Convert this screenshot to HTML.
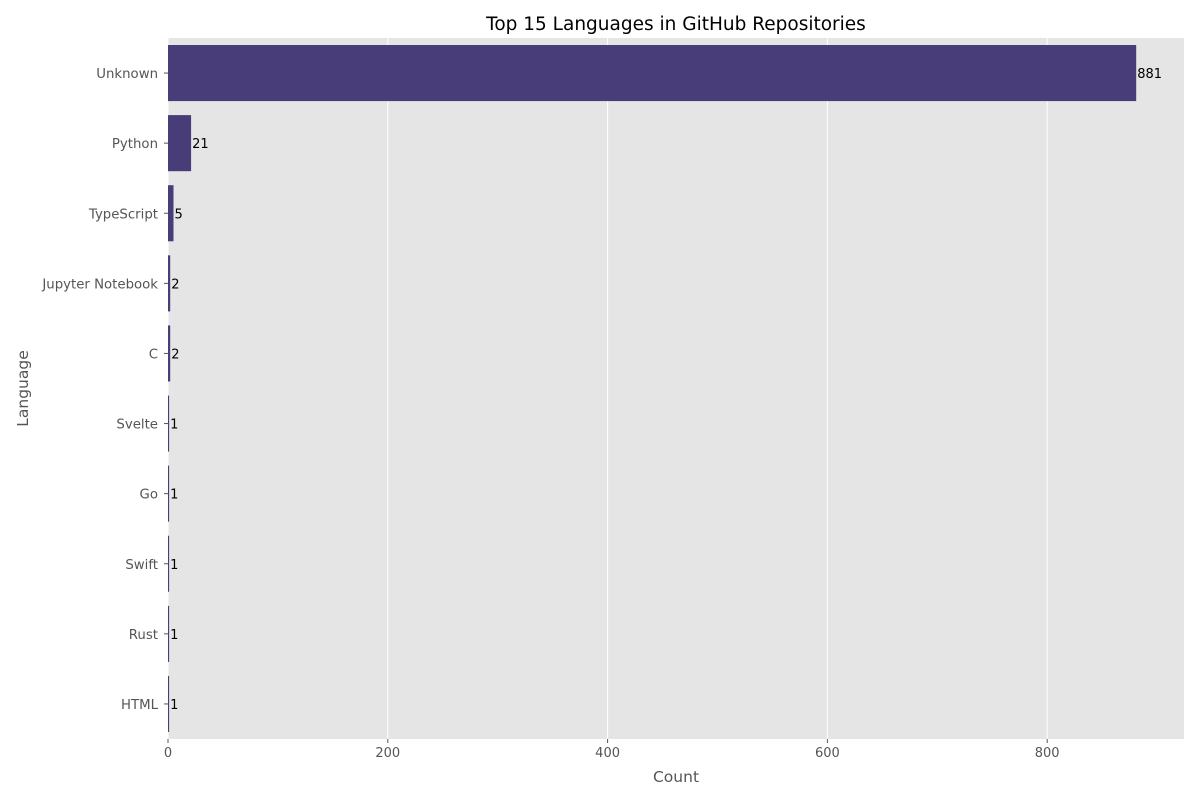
<!DOCTYPE html>
<html><head><meta charset="utf-8"><style>
body{margin:0;background:#fff;font-family:"Liberation Sans","DejaVu Sans",sans-serif}
</style></head><body>
<svg id="chart" width="1200" height="800" xmlns="http://www.w3.org/2000/svg" font-family="DejaVu Sans, Liberation Sans, sans-serif"></svg>
<script>
const categories=["Unknown","Python","TypeScript","Jupyter Notebook","C","Svelte","Go","Swift","Rust","HTML"];
const counts=[881,21,5,2,2,1,1,1,1,1];
const xTicks=[0,200,400,600,800];
const L=168,R=1184,T=38,B=739,XMAX=924.5;
const svg=document.getElementById('chart');
const NS='http://www.w3.org/2000/svg';
function mk(tag,attrs,parent){const e=document.createElementNS(NS,tag);for(const k in attrs)e.setAttribute(k,attrs[k]);(parent||svg).appendChild(e);return e;}
const xs=v=>L+(v/XMAX)*(R-L);
const band=(B-T)/categories.length;
const yc=i=>T+band*(i+0.5);
const bg=mk('rect',{x:L,y:T,width:R-L,height:B-T,fill:'#e5e5e5'});


xTicks.forEach(t=>{
  const g=mk('line',{x1:xs(t),x2:xs(t),y1:T,y2:B,stroke:'#fff','stroke-width':1});
  
  
  mk('line',{x1:xs(t),x2:xs(t),y1:B,y2:B+4,stroke:'#555'});
  const tl=mk('text',{x:xs(t),y:B+18,'text-anchor':'middle','font-size':13,fill:'#555'});
  tl.textContent=t;
  
  
});
categories.forEach((c,i)=>{
  const y=yc(i),h=band*0.8;
  const r=mk('rect',{x:L,y:y-h/2,width:xs(counts[i])-L,height:h,fill:'#483d78'});
  
  
  mk('line',{x1:L-4,x2:L,y1:y,y2:y,stroke:'#555'});
  const tl=mk('text',{x:L-10,y:y+5,'text-anchor':'end','font-size':13.3,fill:'#555'});
  tl.textContent=c;
  
  
  const vl=mk('text',{x:xs(counts[i])+1,y:y+5,'font-size':13,fill:'#000'});
  vl.textContent=counts[i];
  
  
});
const title=mk('text',{x:(L+R)/2,y:30,'text-anchor':'middle','font-size':18.5,fill:'#000'});
title.textContent='Top 15 Languages in GitHub Repositories';


const xt=mk('text',{x:(L+R)/2,y:782,'text-anchor':'middle','font-size':15.5,fill:'#555'});
xt.textContent='Count';


const yt=mk('text',{x:28,y:(T+B)/2,'text-anchor':'middle','font-size':15.5,fill:'#555',transform:'rotate(-90 28 '+((T+B)/2)+')'});
yt.textContent='Language';


</script>
</body></html>
